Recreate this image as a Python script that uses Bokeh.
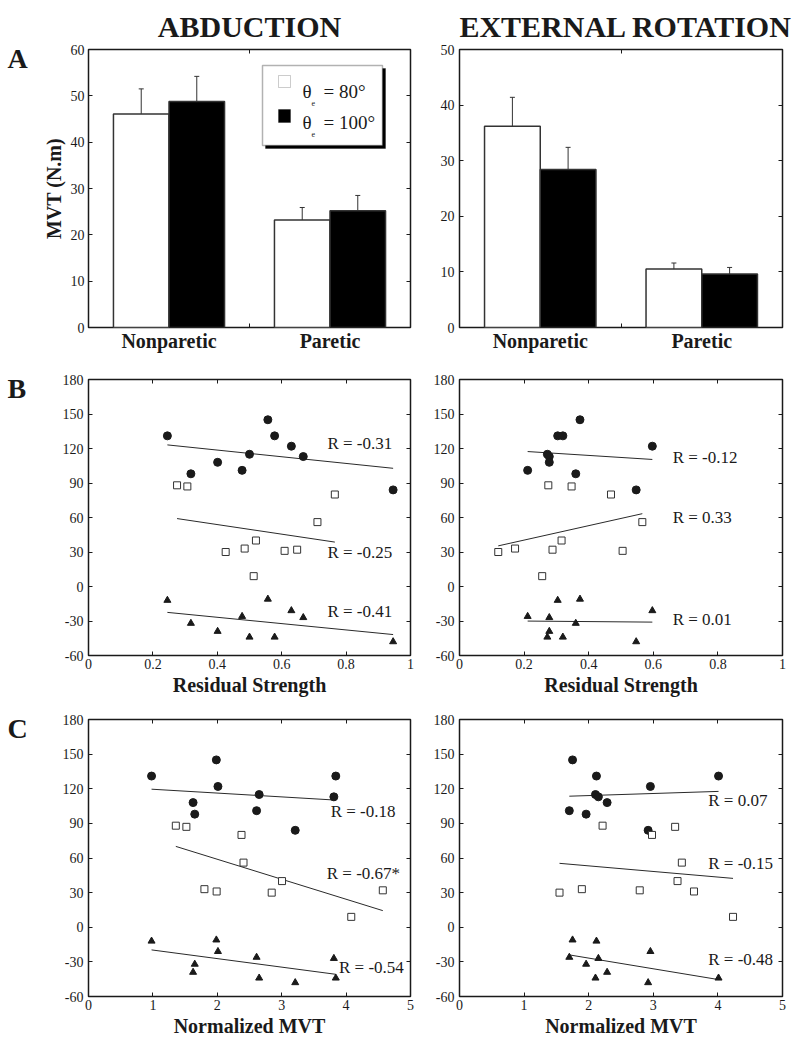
import numpy as np
from bokeh.plotting import figure
from bokeh.models import (Range1d, LinearAxis, FixedTicker, Label, BoxAnnotation, Title,
                          Whisker, TeeHead, ColumnDataSource, CustomJSTickFormatter)
from bokeh.layouts import gridplot
from bokeh.embed import file_html
from bokeh.resources import INLINE

FONT = "Liberation Serif"
INK = "#1a1a1a"

# ---------------- data ----------------
groups = ["Nonparetic", "Paretic"]

# Panel A: MVT (N.m), mean and upper error
abd_80 = [46.1, 23.2]
abd_80_err = [5.4, 2.7]
abd_100 = [48.8, 25.2]
abd_100_err = [5.4, 3.3]
ext_80 = [36.2, 10.5]
ext_80_err = [5.2, 1.1]
ext_100 = [28.4, 9.6]
ext_100_err = [4.0, 1.2]

# Panel B: residual strength (abduction)
abd_rs_x = [0.245, 0.318, 0.401, 0.477, 0.500, 0.557, 0.578, 0.630, 0.667, 0.946]
abd_rs_circ = [131, 98, 108, 101, 115, 145, 131, 122, 113, 84]
abd_rs_tri = [-12, -32, -39, -26, -44, -11, -44, -21, -27, -48]
abd_rs_sq_x = [0.275, 0.307, 0.426, 0.485, 0.520, 0.513, 0.609, 0.648, 0.711, 0.765]
abd_rs_sq = [88, 87, 30, 33, 40, 9, 31, 32, 56, 80]
abd_rs_r = ["R = -0.31", "R = -0.25", "R = -0.41"]

# Panel B: residual strength (external rotation)
ext_rs_x = [0.211, 0.272, 0.278, 0.278, 0.304, 0.320, 0.373, 0.360, 0.547, 0.597]
ext_rs_circ = [101, 115, 113, 108, 131, 131, 145, 98, 84, 122]
ext_rs_tri = [-26, -44, -27, -39, -12, -44, -11, -32, -48, -21]
ext_rs_sq_x = [0.120, 0.172, 0.275, 0.288, 0.316, 0.347, 0.256, 0.469, 0.505, 0.566]
ext_rs_sq = [30, 33, 88, 32, 40, 87, 9, 80, 31, 56]
ext_rs_r = ["R = -0.12", "R = 0.33", "R = 0.01"]

# Panel C: normalized MVT (abduction)
abd_nm_x = [0.979, 1.985, 2.010, 1.624, 1.650, 2.610, 2.650, 3.210, 3.840, 3.810]
abd_nm_circ = [131, 145, 122, 108, 98, 101, 115, 84, 131, 113]
abd_nm_tri = [-12, -11, -21, -39, -32, -26, -44, -48, -44, -27]
abd_nm_sq_x = [1.356, 1.520, 2.376, 2.407, 1.800, 1.990, 2.845, 3.005, 4.080, 4.570]
abd_nm_sq = [88, 87, 80, 56, 33, 31, 30, 40, 9, 32]
abd_nm_r = ["R = -0.18", "R = -0.67*", "R = -0.54"]

# Panel C: normalized MVT (external rotation)
ext_nm_x = [1.750, 2.120, 2.105, 2.150, 2.285, 1.700, 1.960, 2.955, 2.920, 4.010]
ext_nm_circ = [145, 131, 115, 113, 108, 101, 98, 122, 84, 131]
ext_nm_tri = [-11, -12, -44, -27, -39, -26, -32, -21, -48, -44]
ext_nm_sq_x = [1.548, 1.894, 2.215, 2.790, 2.980, 3.338, 3.442, 3.375, 3.630, 4.234]
ext_nm_sq = [30, 33, 88, 32, 80, 87, 56, 40, 31, 9]
ext_nm_r = ["R = 0.07", "R = -0.15", "R = -0.48"]

angle_ticks = [-60, -30, 0, 30, 60, 90, 120, 150, 180]
rs_ticks = [0, 0.2, 0.4, 0.6, 0.8, 1]
nm_ticks = [0, 1, 2, 3, 4, 5]

# ---------------- layout (positions / sizes) ----------------
W_LET, W_L, W_R = 34, 396, 371
H1, H2, H3 = 362, 343, 337
BORD_L = dict(min_border_left=54, min_border_right=20)
BORD_R = dict(min_border_left=29, min_border_right=19)

R_POS = {
    "abd_rs": [(0.742, 124), (0.742, 30), (0.742, -22)],
    "ext_rs": [(0.66, 112), (0.66, 60), (0.66, -29)],
    "abd_nm": [(3.76, 100), (3.70, 47), (3.89, -35)],
    "ext_nm": [(3.85, 110), (3.85, 55), (3.85, -28)],
}


def num_fmt():
    return CustomJSTickFormatter(code="return tick.toString();")


def new_fig(width, height, xr, yr, borders, top, bottom):
    p = figure(width=width, height=height, x_range=Range1d(*xr), y_range=Range1d(*yr),
               output_backend="svg", toolbar_location=None, title=None,
               min_border_top=top, min_border_bottom=bottom, **borders)
    p.xgrid.visible = False
    p.ygrid.visible = False
    p.outline_line_color = INK
    p.outline_line_width = 1.5
    p.background_fill_color = "white"
    p.border_fill_color = "white"
    return p


def style_axis(ax, ticker, show_labels=True):
    ax.ticker = ticker
    ax.axis_line_color = None
    ax.major_tick_in = 4
    ax.major_tick_out = 0
    ax.major_tick_line_color = INK
    ax.major_tick_line_width = 1
    ax.minor_tick_in = 4
    ax.minor_tick_out = 0
    ax.minor_tick_line_color = INK
    ax.major_label_text_font = FONT
    if show_labels:
        ax.major_label_text_color = INK
        ax.major_label_text_font_size = "14px"
        ax.major_label_standoff = 5
    else:
        ax.major_label_text_color = None
        ax.major_label_text_font_size = "0px"
        ax.major_label_standoff = 0


def frame_axes(p, xticker, yticker, x_formatter=None):
    bottom = p.below[0]
    left = p.left[0]
    style_axis(bottom, xticker)
    style_axis(left, yticker)
    bottom.formatter = x_formatter if x_formatter is not None else num_fmt()
    left.formatter = num_fmt()
    top = LinearAxis()
    style_axis(top, xticker, show_labels=False)
    p.add_layout(top, "above")
    right = LinearAxis()
    style_axis(right, yticker, show_labels=False)
    p.add_layout(right, "right")
    return bottom, left, top, right


def add_title(p, text, standoff, align="center", offset=0):
    p.add_layout(Title(text=text, align=align, offset=offset, text_font=FONT,
                       text_font_size="30px", text_font_style="bold", text_color=INK,
                       standoff=standoff), "above")


def screen_label(p, text, x, y, size, bold=True, align="left"):
    p.add_layout(Label(x=x, y=y, x_units="screen", y_units="screen", text=text,
                       text_font=FONT, text_font_size=size,
                       text_font_style="bold" if bold else "normal",
                       text_align=align, text_baseline="alphabetic", text_color=INK))


def letter_fig(height, letter, y_off):
    p = figure(width=W_LET, height=height, x_range=Range1d(0, 1), y_range=Range1d(0, 1),
               x_axis_type=None, y_axis_type=None, output_backend="svg",
               toolbar_location=None, title=None, min_border=0)
    p.outline_line_color = None
    p.border_fill_color = "white"
    p.add_layout(Label(x=0, y=1, x_offset=7, y_offset=y_off, text=letter,
                       text_font=FONT, text_font_size="28px", text_font_style="bold",
                       text_baseline="top", text_align="left", text_color=INK))
    return p


def bar_panel(width, borders, top, ymax, yticks, v80, e80, v100, e100):
    p = new_fig(width, H1, (0, 4), (0, ymax), borders, top, 35)
    xticker = FixedTicker(ticks=[1, 3], minor_ticks=[2])
    fmt = CustomJSTickFormatter(args=dict(names=groups),
                                code="const i = Math.round((tick - 1) / 2); return names[i] ?? '';")
    bottom, left, topax, right = frame_axes(p, xticker, FixedTicker(ticks=yticks), x_formatter=fmt)
    bottom.major_tick_line_color = None
    bottom.major_label_text_font_size = "20px"
    bottom.major_label_text_font_style = "bold"
    bottom.major_label_standoff = 2
    topax.major_tick_line_color = None

    centers = 1 + 2 * np.arange(len(groups))
    half = 0.345
    for xs, vals, errs, fill in ((centers - half, v80, e80, "white"),
                                 (centers + half, v100, e100, "black")):
        src = ColumnDataSource(dict(x=xs, top=vals,
                                    upper=np.array(vals) + np.array(errs)))
        p.vbar(x="x", top="top", bottom=0, width=2 * half, source=src,
               fill_color=fill, line_color="#333333", line_width=1.5)
        w = Whisker(base="x", lower="top", upper="upper", source=src, dimension="height",
                    line_color="#333333", line_width=1, level="overlay",
                    upper_head=TeeHead(size=5, line_color="#333333", line_width=1),
                    lower_head=None)
        p.add_layout(w)
    return p, left


def scatter_panel(width, borders, height, top, bottom_b, xmax, xticks, xs, circ, tri,
                  sq_x, sq, rtexts, rpos, xlabel):
    p = new_fig(width, height, (0, xmax), (-60, 180), borders, top, bottom_b)
    bottom, left, _, _ = frame_axes(p, FixedTicker(ticks=xticks), FixedTicker(ticks=angle_ticks))
    bottom.axis_label = xlabel
    bottom.axis_label_text_font = FONT
    bottom.axis_label_text_font_size = "20px"
    bottom.axis_label_text_font_style = "bold"
    bottom.axis_label_text_color = INK
    bottom.axis_label_standoff = 2
    bottom.major_label_standoff = 3

    for gx, gy in ((xs, circ), (sq_x, sq), (xs, tri)):
        m, b = np.polyfit(gx, gy, 1)
        xx = np.array([min(gx), max(gx)])
        p.line(xx, m * xx + b, line_color="#2a2a2a", line_width=1)
    p.scatter(xs, circ, marker="circle", size=8, fill_color=INK, line_color=INK)
    p.scatter(sq_x, sq, marker="square", size=7, fill_color="white",
              line_color="#333333", line_width=1)
    p.scatter(xs, tri, marker="triangle", size=7, fill_color=INK, line_color=INK)
    for t, (lx, ly) in zip(rtexts, rpos):
        p.add_layout(Label(x=lx, y=ly, text=t, text_font=FONT, text_font_size="17px",
                           text_baseline="middle", text_color=INK))
    return p


# ---------------- Row A ----------------
pA1, ya = bar_panel(W_L, BORD_L, 49, 60, [0, 10, 20, 30, 40, 50, 60],
                    abd_80, abd_80_err, abd_100, abd_100_err)
ya.axis_label = "MVT (N.m)"
ya.axis_label_text_font = FONT
ya.axis_label_text_font_size = "20px"
ya.axis_label_text_font_style = "bold"
ya.axis_label_text_color = INK
ya.axis_label_standoff = 3
ya.major_label_standoff = 4
add_title(pA1, "ABDUCTION", 13)


def sbox(p, l, r, t, b, fill, line, lw):
    p.add_layout(BoxAnnotation(left=l, right=r, top=t, bottom=b,
                               left_units="screen", right_units="screen",
                               top_units="screen", bottom_units="screen",
                               fill_color=fill, fill_alpha=1, line_color=line,
                               line_width=lw))


# legend (drawn by hand: shadowed box, swatches, theta with subscript e)
sbox(pA1, 177, 297, 259, 179, "black", "black", 1)
sbox(pA1, 174, 294, 262, 182, "white", "black", 1.5)
sbox(pA1, 190, 202, 252, 240, "white", "#555555", 1)
sbox(pA1, 190, 202, 218, 205, "black", "black", 1)
for base_y, txt in ((236, "= 80°"), (205, "= 100°")):
    screen_label(pA1, "θ", 214, base_y, "19px", bold=False)
    screen_label(pA1, "e", 223, base_y - 11, "8px", bold=False)
    screen_label(pA1, txt, 235, base_y, "19px", bold=False)

pA2, _ = bar_panel(W_R, BORD_R, 49, 50, [0, 10, 20, 30, 40, 50],
                   ext_80, ext_80_err, ext_100, ext_100_err)
add_title(pA2, "EXTERNAL ROTATION", 13, align="right", offset=-10)

# ---------------- Row B ----------------
pB1 = scatter_panel(W_L, BORD_L, H2, 17, 50, 1, rs_ticks, abd_rs_x, abd_rs_circ,
                    abd_rs_tri, abd_rs_sq_x, abd_rs_sq, abd_rs_r, R_POS["abd_rs"],
                    "Residual Strength")
pB2 = scatter_panel(W_R, BORD_R, H2, 17, 50, 1, rs_ticks, ext_rs_x, ext_rs_circ,
                    ext_rs_tri, ext_rs_sq_x, ext_rs_sq, ext_rs_r, R_POS["ext_rs"],
                    "Residual Strength")

# ---------------- Row C ----------------
pC1 = scatter_panel(W_L, BORD_L, H3, 14, 46, 5, nm_ticks, abd_nm_x, abd_nm_circ,
                    abd_nm_tri, abd_nm_sq_x, abd_nm_sq, abd_nm_r, R_POS["abd_nm"],
                    "Normalized MVT")
pC2 = scatter_panel(W_R, BORD_R, H3, 14, 46, 5, nm_ticks, ext_nm_x, ext_nm_circ,
                    ext_nm_tri, ext_nm_sq_x, ext_nm_sq, ext_nm_r, R_POS["ext_nm"],
                    "Normalized MVT")

lA = letter_fig(H1, "A", 7)
lB = letter_fig(H2, "B", 7)
lC = letter_fig(H3, "C", 7)

grid = gridplot([[lA, pA1, pA2], [lB, pB1, pB2], [lC, pC1, pC2]], toolbar_location=None)

open("out.html", "w").write(file_html(grid, INLINE))
